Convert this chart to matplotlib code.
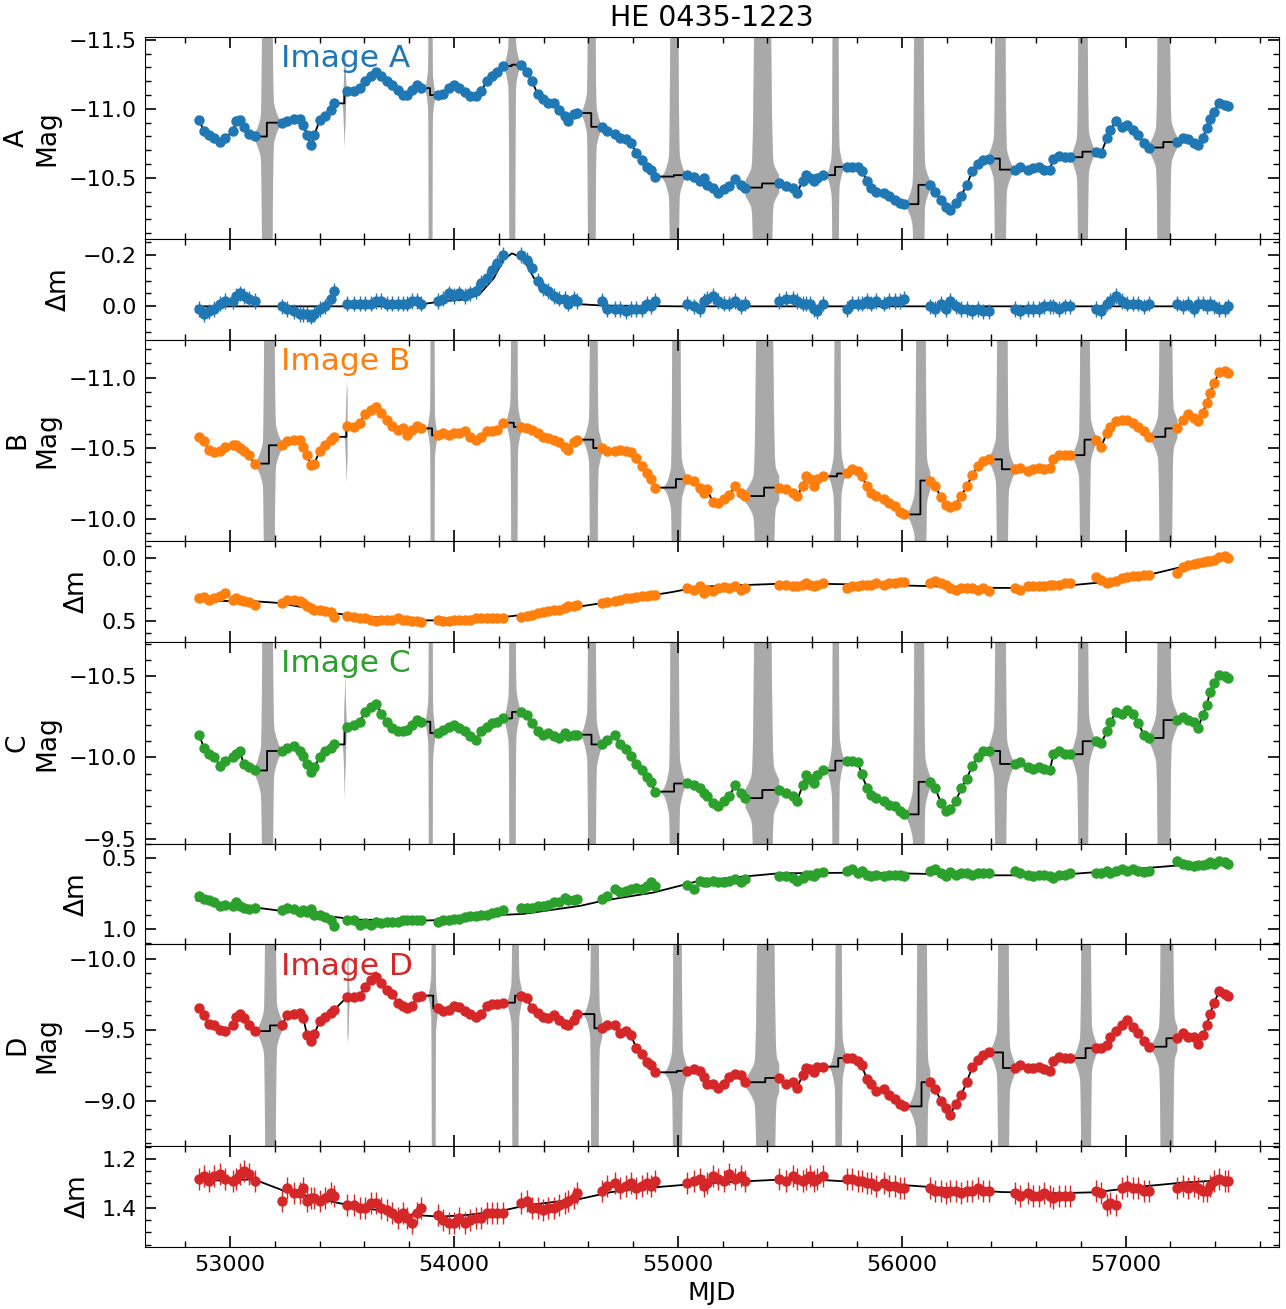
"""
Light curves of the four images of HE 0435-1223 with the fitted model:
magnitude panels (with the model uncertainty in the seasonal gaps) and the
microlensing difference curves below each of them.
"""
import numpy as np
import matplotlib
matplotlib.use('Agg')
import matplotlib.pyplot as plt
from matplotlib.ticker import MultipleLocator

########################################################################################################################
# Data
########################################################################################################################

# observing epochs (shared by the four images), season by season
mjd = [52862, 52882, 52906, 52930, 52955, 52979, 53011, 53028, 53044, 53060, 53084, 53109,
       53230, 53254, 53287, 53311, 53327, 53344, 53360, 53376, 53400, 53425, 53449, 53465,
       53522, 53554, 53579, 53603, 53627, 53652, 53676, 53700, 53724, 53749, 53773, 53789, 53814, 53835, 53854,
       53927, 53951, 53976, 54000, 54024, 54049, 54073, 54097, 54122, 54146, 54170, 54194, 54219,
       54300, 54324, 54348, 54373, 54397, 54421, 54446, 54470, 54494, 54511, 54535, 54551,
       54660, 54685, 54717, 54741, 54766, 54790, 54815, 54839, 54863, 54880, 54896,
       55040, 55070, 55100, 55115, 55130, 55155, 55180, 55205, 55230, 55255, 55280, 55300,
       55450, 55483, 55516, 55532, 55557, 55573, 55590, 55606, 55623, 55647,
       55755, 55779, 55804, 55820, 55845, 55862, 55886, 55919, 55944, 55969, 55993, 56010,
       56125, 56150, 56175, 56199, 56216, 56241, 56265, 56290, 56315, 56339, 56364, 56389,
       56504, 56529, 56562, 56586, 56611, 56636, 56661, 56677, 56702, 56727, 56751,
       56867, 56891, 56916, 56932, 56957, 56982, 57007, 57031, 57056, 57081, 57105,
       57229, 57254, 57278, 57303, 57323, 57344, 57361, 57377, 57394, 57418, 57443, 57455]

mag_A = [-10.92, -10.84, -10.81, -10.79, -10.76, -10.79, -10.84, -10.91, -10.92, -10.87, -10.82, -10.80,
         -10.90, -10.91, -10.93, -10.93, -10.88, -10.81, -10.74, -10.81, -10.92, -10.95, -10.99, -11.04,
         -11.13, -11.13, -11.15, -11.20, -11.24, -11.27, -11.24, -11.20, -11.17, -11.14, -11.10, -11.10, -11.14, -11.17, -11.15,
         -11.10, -11.11, -11.15, -11.17, -11.15, -11.12, -11.09, -11.09, -11.13, -11.20, -11.24, -11.27, -11.31,
         -11.32, -11.27, -11.20, -11.11, -11.07, -11.04, -11.04, -10.99, -10.95, -10.91, -10.96, -10.97,
         -10.87, -10.84, -10.82, -10.79, -10.78, -10.75, -10.68, -10.63, -10.58, -10.56, -10.51,
         -10.52, -10.51, -10.48, -10.50, -10.45, -10.43, -10.39, -10.42, -10.44, -10.49, -10.45, -10.43,
         -10.46, -10.44, -10.43, -10.39, -10.48, -10.52, -10.50, -10.48, -10.50, -10.52,
         -10.58, -10.58, -10.58, -10.55, -10.48, -10.43, -10.40, -10.39, -10.37, -10.34, -10.32, -10.31,
         -10.45, -10.40, -10.34, -10.29, -10.27, -10.32, -10.37, -10.45, -10.55, -10.60, -10.63, -10.64,
         -10.56, -10.58, -10.56, -10.57, -10.58, -10.56, -10.56, -10.64, -10.66, -10.65, -10.65,
         -10.69, -10.68, -10.79, -10.85, -10.91, -10.87, -10.88, -10.85, -10.81, -10.75, -10.72,
         -10.76, -10.79, -10.78, -10.75, -10.74, -10.79, -10.86, -10.93, -10.98, -11.04, -11.03, -11.02]

dm_A = [0.01, 0.03, 0.02, 0.01, -0.01, -0.02, -0.02, -0.04, -0.05, -0.04, -0.03, -0.02,
        0.00, 0.01, 0.02, 0.03, 0.03, 0.03, 0.04, 0.03, 0.01, 0.00, -0.03, -0.06,
        -0.01, -0.01, -0.01, -0.01, -0.01, -0.02, -0.02, -0.01, -0.01, -0.01, -0.01, -0.01, -0.02, -0.02, -0.01,
        -0.02, -0.03, -0.05, -0.04, -0.05, -0.04, -0.05, -0.06, -0.09, -0.11, -0.14, -0.17, -0.20,
        -0.20, -0.18, -0.15, -0.10, -0.07, -0.06, -0.04, -0.03, -0.03, -0.01, -0.03, -0.02,
        -0.02, 0.01, 0.01, 0.01, 0.02, 0.01, 0.01, 0.01, -0.01, 0.00, -0.02,
        -0.01, 0.00, 0.01, -0.02, -0.03, -0.04, -0.02, -0.01, -0.01, -0.02, 0.00, -0.01,
        -0.02, -0.03, -0.03, -0.02, -0.01, -0.01, -0.01, 0.01, 0.02, -0.01,
        0.01, -0.01, -0.01, -0.01, -0.02, -0.01, -0.02, -0.01, -0.02, -0.02, -0.02, -0.03,
        0.00, 0.01, -0.01, 0.01, -0.02, 0.00, 0.01, 0.01, 0.02, 0.01, 0.02, 0.02,
        0.01, 0.02, 0.01, 0.01, 0.01, 0.00, 0.00, 0.00, 0.01, 0.00, 0.00,
        0.01, 0.02, -0.01, -0.02, -0.04, -0.02, -0.01, -0.01, -0.01, 0.00, -0.01,
        -0.01, 0.00, -0.01, 0.01, -0.01, -0.01, 0.00, -0.01, 0.00, 0.01, 0.01, 0.00]

mag_B = [-10.58, -10.55, -10.49, -10.47, -10.48, -10.51, -10.52, -10.52, -10.50, -10.48, -10.45, -10.39,
         -10.52, -10.55, -10.56, -10.56, -10.51, -10.45, -10.38, -10.39, -10.48, -10.52, -10.56, -10.58,
         -10.66, -10.65, -10.68, -10.74, -10.77, -10.79, -10.75, -10.70, -10.66, -10.63, -10.64, -10.59, -10.63, -10.66, -10.64,
         -10.59, -10.61, -10.59, -10.61, -10.61, -10.62, -10.58, -10.56, -10.58, -10.62, -10.62, -10.63, -10.68,
         -10.65, -10.64, -10.63, -10.61, -10.58, -10.57, -10.56, -10.54, -10.51, -10.49, -10.54, -10.56,
         -10.50, -10.48, -10.48, -10.49, -10.48, -10.47, -10.43, -10.37, -10.32, -10.28, -10.22,
         -10.28, -10.27, -10.22, -10.18, -10.21, -10.12, -10.11, -10.14, -10.17, -10.23, -10.18, -10.16,
         -10.22, -10.21, -10.18, -10.16, -10.23, -10.30, -10.28, -10.23, -10.28, -10.30,
         -10.32, -10.35, -10.34, -10.30, -10.23, -10.18, -10.16, -10.14, -10.11, -10.09, -10.05, -10.03,
         -10.27, -10.23, -10.15, -10.10, -10.08, -10.10, -10.16, -10.23, -10.31, -10.37, -10.41, -10.42,
         -10.35, -10.36, -10.34, -10.35, -10.36, -10.35, -10.36, -10.42, -10.45, -10.45, -10.45,
         -10.56, -10.51, -10.61, -10.65, -10.69, -10.70, -10.70, -10.68, -10.65, -10.62, -10.58,
         -10.64, -10.70, -10.74, -10.71, -10.69, -10.75, -10.82, -10.89, -10.96, -11.04, -11.05, -11.03]

dm_B = [0.32, 0.31, 0.33, 0.32, 0.30, 0.28, 0.33, 0.32, 0.33, 0.34, 0.35, 0.37,
        0.36, 0.33, 0.33, 0.34, 0.36, 0.38, 0.40, 0.41, 0.41, 0.42, 0.43, 0.47,
        0.46, 0.47, 0.48, 0.48, 0.49, 0.50, 0.49, 0.49, 0.49, 0.48, 0.49, 0.49, 0.50, 0.50, 0.51,
        0.49, 0.50, 0.50, 0.49, 0.49, 0.49, 0.49, 0.48, 0.48, 0.48, 0.48, 0.48, 0.48,
        0.47, 0.46, 0.45, 0.44, 0.43, 0.42, 0.41, 0.41, 0.40, 0.38, 0.38, 0.37,
        0.36, 0.35, 0.34, 0.33, 0.32, 0.32, 0.31, 0.30, 0.30, 0.29, 0.29,
        0.24, 0.25, 0.22, 0.28, 0.25, 0.26, 0.24, 0.23, 0.24, 0.22, 0.25, 0.24,
        0.21, 0.21, 0.22, 0.22, 0.21, 0.20, 0.21, 0.22, 0.21, 0.20,
        0.24, 0.22, 0.22, 0.21, 0.21, 0.21, 0.20, 0.21, 0.20, 0.20, 0.19, 0.19,
        0.20, 0.18, 0.20, 0.21, 0.24, 0.25, 0.24, 0.24, 0.24, 0.25, 0.24, 0.26,
        0.24, 0.25, 0.22, 0.22, 0.22, 0.22, 0.21, 0.21, 0.21, 0.20, 0.20,
        0.15, 0.17, 0.20, 0.19, 0.18, 0.16, 0.15, 0.14, 0.14, 0.13, 0.13,
        0.12, 0.07, 0.055, 0.045, 0.04, 0.03, 0.025, 0.02, 0.01, -0.01, -0.015, -0.005]

mag_C = [-10.14, -10.06, -10.02, -10.00, -9.95, -9.98, -10.00, -10.02, -10.04, -9.96, -9.94, -9.92,
         -10.04, -10.06, -10.07, -10.04, -10.01, -9.96, -9.91, -9.94, -10.00, -10.04, -10.06, -10.08,
         -10.19, -10.20, -10.22, -10.28, -10.31, -10.33, -10.27, -10.22, -10.18, -10.16, -10.16, -10.17, -10.20, -10.23, -10.22,
         -10.15, -10.17, -10.19, -10.20, -10.18, -10.16, -10.13, -10.11, -10.16, -10.19, -10.21, -10.22, -10.24,
         -10.28, -10.26, -10.21, -10.16, -10.14, -10.15, -10.13, -10.12, -10.15, -10.13, -10.14, -10.14,
         -10.08, -10.11, -10.14, -10.08, -10.05, -10.01, -9.96, -9.92, -9.88, -9.85, -9.79,
         -9.84, -9.83, -9.81, -9.78, -9.76, -9.72, -9.70, -9.73, -9.76, -9.83, -9.78, -9.75,
         -9.80, -9.78, -9.76, -9.73, -9.83, -9.89, -9.87, -9.84, -9.89, -9.92,
         -9.98, -9.98, -9.97, -9.90, -9.81, -9.77, -9.75, -9.73, -9.71, -9.70, -9.67, -9.65,
         -9.85, -9.81, -9.72, -9.67, -9.68, -9.73, -9.81, -9.87, -9.95, -10.00, -10.04, -10.04,
         -9.96, -9.97, -9.94, -9.93, -9.94, -9.93, -9.92, -10.02, -10.04, -10.02, -10.02,
         -10.10, -10.09, -10.16, -10.22, -10.28, -10.27, -10.29, -10.27, -10.21, -10.14, -10.12,
         -10.23, -10.25, -10.23, -10.22, -10.18, -10.26, -10.32, -10.40, -10.46, -10.51, -10.50, -10.49]

dm_C = [0.77, 0.79, 0.80, 0.81, 0.84, 0.83, 0.84, 0.81, 0.84, 0.85, 0.86, 0.85,
        0.87, 0.85, 0.86, 0.88, 0.87, 0.88, 0.86, 0.90, 0.90, 0.92, 0.94, 0.98,
        0.94, 0.94, 0.97, 0.96, 0.97, 0.95, 0.96, 0.95, 0.95, 0.95, 0.94, 0.94, 0.94, 0.94, 0.94,
        0.95, 0.94, 0.94, 0.93, 0.93, 0.92, 0.91, 0.91, 0.90, 0.90, 0.89, 0.88, 0.87,
        0.85, 0.85, 0.85, 0.84, 0.84, 0.83, 0.81, 0.81, 0.78, 0.80, 0.80, 0.79,
        0.79, 0.77, 0.72, 0.74, 0.73, 0.72, 0.71, 0.72, 0.70, 0.67, 0.70,
        0.69, 0.72, 0.66, 0.67, 0.67, 0.66, 0.67, 0.67, 0.66, 0.65, 0.67, 0.65,
        0.63, 0.63, 0.64, 0.66, 0.64, 0.62, 0.62, 0.63, 0.61, 0.60,
        0.59, 0.58, 0.61, 0.59, 0.62, 0.63, 0.62, 0.63, 0.62, 0.62, 0.62, 0.63,
        0.59, 0.58, 0.61, 0.63, 0.60, 0.62, 0.61, 0.61, 0.62, 0.61, 0.61, 0.61,
        0.59, 0.61, 0.62, 0.63, 0.62, 0.62, 0.63, 0.64, 0.62, 0.62, 0.61,
        0.61, 0.61, 0.59, 0.61, 0.59, 0.58, 0.59, 0.58, 0.59, 0.60, 0.59,
        0.52, 0.54, 0.55, 0.56, 0.55, 0.55, 0.54, 0.53, 0.54, 0.52, 0.53, 0.54]

mag_D = [-9.65, -9.60, -9.54, -9.53, -9.50, -9.49, -9.53, -9.59, -9.61, -9.58, -9.53, -9.49,
         -9.53, -9.60, -9.61, -9.62, -9.58, -9.46, -9.42, -9.47, -9.56, -9.59, -9.62, -9.64,
         -9.73, -9.73, -9.74, -9.80, -9.85, -9.87, -9.83, -9.78, -9.75, -9.69, -9.67, -9.65, -9.67, -9.73, -9.74,
         -9.65, -9.63, -9.64, -9.67, -9.66, -9.63, -9.61, -9.59, -9.61, -9.67, -9.68, -9.68, -9.69,
         -9.74, -9.72, -9.65, -9.62, -9.59, -9.58, -9.60, -9.57, -9.54, -9.53, -9.57, -9.61,
         -9.51, -9.53, -9.53, -9.48, -9.49, -9.46, -9.37, -9.33, -9.27, -9.25, -9.20,
         -9.21, -9.22, -9.21, -9.17, -9.12, -9.12, -9.09, -9.12, -9.17, -9.19, -9.18, -9.13,
         -9.16, -9.12, -9.13, -9.09, -9.18, -9.23, -9.22, -9.20, -9.24, -9.24,
         -9.30, -9.30, -9.28, -9.25, -9.15, -9.12, -9.07, -9.08, -9.04, -9.01, -8.98, -8.96,
         -9.13, -9.08, -9.00, -8.95, -8.90, -8.98, -9.04, -9.13, -9.24, -9.29, -9.32, -9.34,
         -9.23, -9.25, -9.23, -9.23, -9.24, -9.22, -9.21, -9.28, -9.31, -9.30, -9.30,
         -9.37, -9.37, -9.39, -9.45, -9.49, -9.53, -9.57, -9.52, -9.48, -9.42, -9.38,
         -9.44, -9.48, -9.45, -9.45, -9.40, -9.46, -9.53, -9.61, -9.69, -9.77, -9.75, -9.74]

dm_D = [1.28, 1.27, 1.29, 1.27, 1.26, 1.28, 1.29, 1.28, 1.26, 1.25, 1.26, 1.29,
        1.37, 1.32, 1.34, 1.34, 1.32, 1.37, 1.36, 1.36, 1.37, 1.36, 1.34, 1.35,
        1.39, 1.39, 1.40, 1.40, 1.38, 1.38, 1.40, 1.41, 1.42, 1.44, 1.42, 1.44, 1.46, 1.42, 1.40,
        1.43, 1.45, 1.46, 1.46, 1.44, 1.46, 1.45, 1.44, 1.44, 1.42, 1.42, 1.42, 1.42,
        1.38, 1.37, 1.40, 1.40, 1.41, 1.40, 1.40, 1.39, 1.38, 1.37, 1.36, 1.34,
        1.33, 1.31, 1.30, 1.32, 1.31, 1.30, 1.32, 1.31, 1.30, 1.31, 1.29,
        1.30, 1.29, 1.28, 1.31, 1.30, 1.27, 1.28, 1.29, 1.26, 1.28, 1.27, 1.29,
        1.28, 1.29, 1.27, 1.28, 1.29, 1.28, 1.27, 1.29, 1.28, 1.27,
        1.28, 1.28, 1.29, 1.29, 1.30, 1.30, 1.31, 1.30, 1.31, 1.31, 1.32, 1.32,
        1.32, 1.33, 1.33, 1.34, 1.33, 1.33, 1.34, 1.33, 1.33, 1.32, 1.33, 1.33,
        1.34, 1.35, 1.34, 1.35, 1.35, 1.34, 1.35, 1.36, 1.35, 1.35, 1.35,
        1.33, 1.34, 1.39, 1.38, 1.39, 1.32, 1.31, 1.32, 1.32, 1.33, 1.33,
        1.32, 1.31, 1.32, 1.31, 1.32, 1.33, 1.33, 1.31, 1.29, 1.28, 1.29, 1.29]

# smooth microlensing model (knots)
dmfit_A_t = [52850, 53700, 53854, 53951, 54049, 54113, 54178, 54219, 54259, 54308, 54357, 54405, 54486, 54567,
             54664, 55000, 57455]
dmfit_A = [0.0, 0.0, -0.008, -0.02, -0.027, -0.046, -0.11, -0.18, -0.206, -0.187, -0.11, -0.059, -0.02, -0.008,
           -0.003, 0.0, 0.0]
dmfit_B_t = [52850, 53109, 53222, 53481, 53562, 53854, 54000, 54211, 54308, 54567, 54664, 54972, 55096, 55450,
             55639, 56018, 56414, 56578, 56743, 56908, 57122, 57237, 57455]
dmfit_B = [0.339, 0.344, 0.358, 0.444, 0.46, 0.497, 0.497, 0.473, 0.452, 0.384, 0.358, 0.271, 0.228, 0.204,
           0.204, 0.218, 0.237, 0.237, 0.218, 0.19, 0.124, 0.075, -0.019]
dmfit_C_t = [52850, 53109, 53222, 53481, 53562, 53854, 54000, 54211, 54308, 54567, 54664, 54891, 55100, 55450,
             55760, 56020, 56414, 56680, 56870, 57237, 57455]
dmfit_C = [0.80, 0.849, 0.872, 0.919, 0.935, 0.942, 0.935, 0.902, 0.895, 0.837, 0.802, 0.744, 0.66, 0.609,
           0.605, 0.61, 0.623, 0.623, 0.60, 0.553, 0.535]
dmfit_D_t = [52853, 53106, 53240, 53478, 53597, 53775, 53939, 54058, 54207, 54326, 54564, 54698, 54802, 55100,
             55549, 55996, 56443, 56700, 56862, 57100, 57248, 57455]
dmfit_D = [1.29, 1.283, 1.33, 1.379, 1.40, 1.426, 1.436, 1.429, 1.413, 1.389, 1.363, 1.336, 1.323, 1.30,
           1.28, 1.306, 1.335, 1.34, 1.336, 1.31, 1.297, 1.285]

# seasonal gaps of image A: centre, half width of the open band (days) and its height (mag)
gap_mjd = [53164, 53510, 53893, 54258, 54613, 54982, 55376, 55702, 56074, 56438, 56807, 57168]
gap_width = [22, 5, 8, 13, 16, 18, 37, 13, 21, 22, 20, 26]
gap_amp = [3.0, 0.3, 3.0, 3.0, 3.0, 3.0, 3.0, 3.0, 3.0, 3.0, 3.0, 3.0]

########################################################################################################################
# Panel settings
########################################################################################################################

images = ['A', 'B', 'C', 'D']
colors = ['#1f77b4', '#ff7f0e', '#2ca02c', '#d62728']
mags = [mag_A, mag_B, mag_C, mag_D]
dms = [dm_A, dm_B, dm_C, dm_D]
dm_fits = [(dmfit_A_t, dmfit_A), (dmfit_B_t, dmfit_B), (dmfit_C_t, dmfit_C), (dmfit_D_t, dmfit_D)]
delays = [0, 9, 1, 14]
mag_err = [0.01, 0.012, 0.02, 0.018]
dm_err = [0.03, 0.025, 0.03, 0.045]
mag_lims = [(-10.06, -11.52), (-9.84, -11.27), (-9.47, -10.71), (-8.68, -10.10)]
dm_lims = [(0.129, -0.263), (0.67, -0.137), (1.11, 0.40), (1.56, 1.147)]
dm_major = [0.2, 0.5, 0.5, 0.2]
dm_minor = [0.05, 0.1, 0.1, 0.05]


def model_curve(t, v, centres):
    """Model through the data, holding the level into each gap and stepping at its centre."""
    idx = np.searchsorted(t, centres)
    lt, lv = [], []
    start = 0
    for c, i in zip(centres, idx):
        lt += list(t[start:i]) + [c, c]
        lv += list(v[start:i]) + [v[i - 1], v[i]]
        start = i
    lt += list(t[start:])
    lv += list(v[start:])
    return lt, lv


def draw_gaps(ax, t, v, centres):
    """Grey model uncertainty that opens up inside the seasonal gaps."""
    idx = np.searchsorted(t, centres)
    for c, i, w, a in zip(centres, idx, gap_width, gap_amp):
        tt = np.linspace(t[i - 1], t[i], 400)
        base = np.where(tt < c, v[i - 1], v[i])
        x = (tt - c) / w
        if a > 1:
            # a tall narrow core plus a flare next to the curve
            s = a * np.exp(-x ** 6) + 0.25 * np.exp(-(x / 1.7) ** 2)
        else:
            s = a * np.exp(-x ** 2)
        ax.fill_between(tt, base - 1.12 * s, base + 1.12 * s, color='#dadada', lw=0, zorder=1)
        ax.fill_between(tt, base - s, base + s, color='#a9a9a9', lw=0, zorder=1)


def style_axis(ax):
    ax.tick_params(which='both', direction='in', top=True, right=True, labelsize=16, pad=6)
    ax.tick_params(which='major', length=8, width=1.2)
    ax.tick_params(which='minor', length=4, width=1.0)


########################################################################################################################
# Figure
########################################################################################################################

fig, axes = plt.subplots(8, 1, sharex=True, figsize=(12.86, 13.09), dpi=100,
                         gridspec_kw={'height_ratios': [2, 1] * 4, 'hspace': 0})
fig.subplots_adjust(left=0.1128, right=0.9946, top=0.9717, bottom=0.0474)

t = np.array(mjd, dtype=float)
for k, name in enumerate(images):
    ax_m = axes[2 * k]
    ax_d = axes[2 * k + 1]
    m = np.array(mags[k])
    d = np.array(dms[k])
    centres = np.array(gap_mjd) + delays[k]

    # Magnitude panel
    draw_gaps(ax_m, t, m, centres)
    lt, lv = model_curve(t, m, centres)
    ax_m.plot(lt, lv, c='k', lw=1.3, zorder=2)
    ax_m.errorbar(t, m, yerr=mag_err[k], fmt='o', color=colors[k], ms=6.5, elinewidth=1, zorder=3)
    ax_m.text(0.12, 0.85, 'Image ' + name, transform=ax_m.transAxes, color=colors[k], fontsize=22.5)
    ax_m.set_ylim(*mag_lims[k])
    ax_m.yaxis.set_major_locator(MultipleLocator(0.5))
    ax_m.yaxis.set_minor_locator(MultipleLocator(0.1))
    ax_m.set_ylabel(name + '\nMag', fontsize=19, labelpad=6)
    style_axis(ax_m)

    # Microlensing difference panel
    ax_d.plot(dm_fits[k][0], dm_fits[k][1], c='k', lw=1.3, zorder=2)
    ax_d.errorbar(t, d, yerr=dm_err[k], fmt='o', color=colors[k], ms=6.5, elinewidth=1, zorder=3)
    ax_d.set_ylim(*dm_lims[k])
    ax_d.yaxis.set_major_locator(MultipleLocator(dm_major[k]))
    ax_d.yaxis.set_minor_locator(MultipleLocator(dm_minor[k]))
    ax_d.set_ylabel('Δm', fontsize=19, labelpad=8)
    style_axis(ax_d)

axes[0].set_title('HE 0435-1223', fontsize=20.5, pad=8)
axes[-1].set_xlim(52620, 57685)
axes[-1].xaxis.set_major_locator(MultipleLocator(1000))
axes[-1].xaxis.set_minor_locator(MultipleLocator(200))
axes[-1].set_xlabel('MJD', fontsize=18, labelpad=4)

plt.savefig('out.png', dpi=100)
